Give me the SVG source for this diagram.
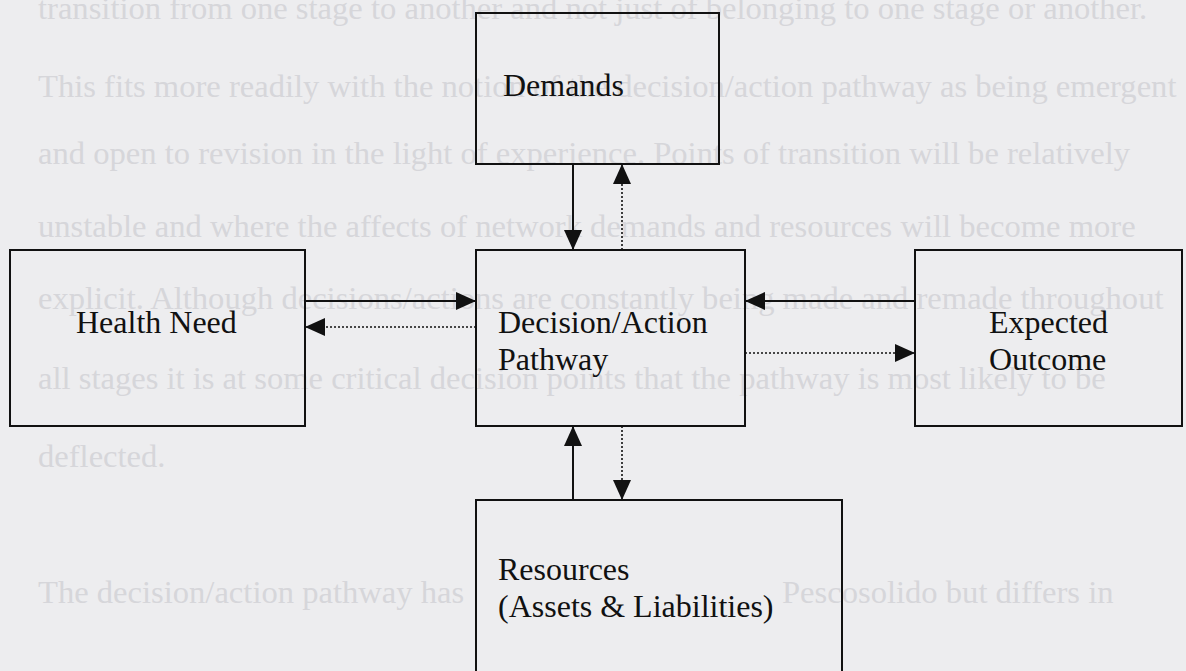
<svg xmlns="http://www.w3.org/2000/svg" width="1186" height="671" viewBox="0 0 1186 671">
  <style>
    .page { fill: #ededef; }
    .ghost { font-family: "Liberation Serif", "Times New Roman", serif; font-size: 32.6px; fill: #d6d6da; }
    .box { fill: none; stroke: #111; stroke-width: 2; }
    .label { font-family: "Liberation Serif", "Times New Roman", serif; font-size: 32px; fill: #111; }
    .solid { stroke: #111; stroke-width: 2; fill: none; }
    .dotted { stroke: #111; stroke-width: 1.6; stroke-dasharray: 2 2; fill: none; }
  </style>
  <defs>
    <marker id="head" viewBox="0 0 20 18" markerWidth="20" markerHeight="18" markerUnits="userSpaceOnUse" refX="20" refY="9" orient="auto">
      <path d="M0,0 L20,9 L0,18 Z" fill="#111"/>
    </marker>
  </defs>

  <!-- paper background -->
  <rect class="page" x="0" y="0" width="1186" height="671"/>

  <!-- faint show-through of the text on the other side of the sheet -->
  <g id="show-through" class="ghost">
    <text x="38" y="19">transition from one stage to another and not just of belonging to one stage or another.</text>
    <text x="38" y="97">This fits more readily with the notion of the decision/action pathway as being emergent</text>
    <text x="38" y="164">and open to revision in the light of experience.  Points of transition will be relatively</text>
    <text x="38" y="237">unstable and where the affects of network demands and resources will become more</text>
    <text x="38" y="309">explicit.  Although decisions/actions are constantly being made and remade throughout</text>
    <text x="38" y="389">all stages it is at some critical decision points that the pathway is most likely to be</text>
    <text x="38" y="467">deflected.</text>
    <text x="38" y="603">The decision/action pathway has</text>
    <text x="782" y="603">Pescosolido but differs in</text>
  </g>

  <!-- connectors -->
  <g id="connectors">
    <!-- Demands <-> Decision/Action Pathway -->
    <line class="solid" x1="573" y1="164" x2="573" y2="250" marker-end="url(#head)"/>
    <line class="dotted" x1="622" y1="250" x2="622" y2="164" marker-end="url(#head)"/>
    <!-- Health Need <-> Decision/Action Pathway -->
    <line class="solid" x1="305" y1="301" x2="476" y2="301" marker-end="url(#head)"/>
    <line class="dotted" x1="476" y1="327" x2="305" y2="327" marker-end="url(#head)"/>
    <!-- Expected Outcome <-> Decision/Action Pathway -->
    <line class="solid" x1="915" y1="301" x2="745" y2="301" marker-end="url(#head)"/>
    <line class="dotted" x1="745" y1="353" x2="915" y2="353" marker-end="url(#head)"/>
    <!-- Resources <-> Decision/Action Pathway -->
    <line class="solid" x1="573" y1="500" x2="573" y2="426" marker-end="url(#head)"/>
    <line class="dotted" x1="622" y1="426" x2="622" y2="500" marker-end="url(#head)"/>
  </g>

  <g id="demands">
    <rect class="box" x="476" y="13" width="243" height="151"/>
    <text class="label" x="503" y="96">Demands</text>
  </g>

  <g id="health-need">
    <rect class="box" x="10" y="250" width="295" height="176"/>
    <text class="label" x="76" y="333">Health Need</text>
  </g>

  <g id="decision-action-pathway">
    <rect class="box" x="476" y="250" width="269" height="176"/>
    <text class="label" x="498" y="333">Decision/Action</text>
    <text class="label" x="498" y="370">Pathway</text>
  </g>

  <g id="expected-outcome">
    <rect class="box" x="915" y="250" width="267" height="176"/>
    <text class="label" x="989" y="333">Expected</text>
    <text class="label" x="989" y="370">Outcome</text>
  </g>

  <g id="resources">
    <rect class="box" x="476" y="500" width="366" height="190"/>
    <text class="label" x="498" y="580">Resources</text>
    <text class="label" x="498" y="617">(Assets &amp; Liabilities)</text>
  </g>
</svg>
